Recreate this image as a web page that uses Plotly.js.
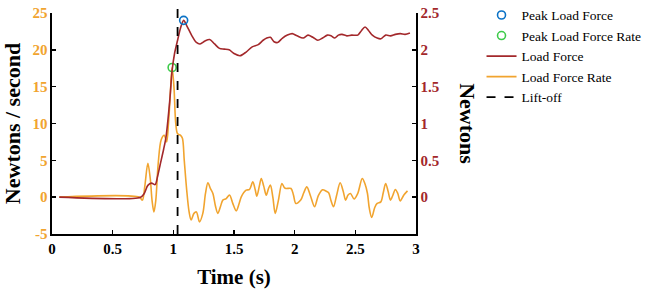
<!DOCTYPE html>
<html>
<head>
<meta charset="utf-8">
<script src="https://cdn.plot.ly/plotly-3.0.1.min.js"></script>
<style>html,body{margin:0;padding:0;background:#fff;}#chart{width:649px;height:293px;}</style>
</head>
<body>
<div id="chart"></div>
<script>
// ---- data ----
const forceTime = [0.06,0.73,0.76,0.79,0.82,0.85,0.87,0.89,0.92,0.94,0.97,0.99,1.01,1.035,1.06,1.085,1.11,1.15,1.19,1.22,1.26,1.30,1.34,1.38,1.42,1.46,1.50,1.55,1.60,1.65,1.70,1.74,1.77,1.80,1.83,1.86,1.90,1.94,1.98,2.02,2.07,2.11,2.15,2.19,2.23,2.27,2.30,2.33,2.36,2.39,2.43,2.47,2.52,2.55,2.58,2.61,2.64,2.68,2.71,2.75,2.79,2.83,2.87,2.91,2.95];
const loadForce = [0,0,0.05,0.16,0.19,0.17,0.28,0.43,0.65,0.82,1.3,1.72,1.95,2.13,2.3,2.40,2.33,2.2,2.1,2.08,2.12,2.14,2.08,2.02,2.01,2.0,1.95,1.92,1.97,2.04,2.07,2.13,2.16,2.17,2.11,2.10,2.16,2.2,2.22,2.19,2.16,2.2,2.17,2.13,2.16,2.2,2.19,2.16,2.2,2.21,2.19,2.2,2.2,2.26,2.31,2.26,2.2,2.16,2.15,2.2,2.19,2.21,2.22,2.21,2.23];

const rateTime = [0.06,0.72,0.745,0.765,0.79,0.81,0.825,0.84,0.855,0.875,0.90,0.925,0.945,0.96,0.975,0.99,1.005,1.02,1.035,1.06,1.075,1.09,1.11,1.13,1.147,1.17,1.19,1.216,1.243,1.265,1.285,1.305,1.326,1.347,1.367,1.39,1.408,1.436,1.463,1.49,1.518,1.54,1.56,1.60,1.628,1.655,1.675,1.688,1.71,1.725,1.745,1.766,1.785,1.80,1.82,1.84,1.865,1.895,1.915,1.93,1.97,1.99,2.01,2.05,2.075,2.10,2.13,2.164,2.195,2.23,2.26,2.28,2.30,2.32,2.345,2.375,2.40,2.42,2.44,2.46,2.49,2.52,2.557,2.58,2.60,2.615,2.635,2.66,2.68,2.71,2.73,2.75,2.77,2.79,2.81,2.83,2.85,2.87,2.90,2.93];
const loadForceRate = [0,0,-0.4,1.5,4.6,2.5,-0.5,-2.0,-0.5,4.5,7.8,8.4,7.5,10,14,17.6,15,10,8.6,8.4,8.0,5,1,-2,-3.1,-2.2,-2.0,-3.35,-2.2,0.5,1.95,1.2,0.5,-1.2,-2.2,-1.2,-0.4,-0.2,0.3,-0.85,-1.85,-1.0,0.04,0.95,1.05,2.08,1.0,0.14,1.6,2.54,1.5,0.27,1.2,1.63,0.0,-2.2,-0.5,1.86,1.3,1.18,1.18,0.3,-0.85,-0.4,0.6,1.4,0.2,-1.3,0.2,1.0,0.8,0.6,-0.5,-1.3,0.2,1.95,0.8,-0.4,0.3,0.5,-0.25,0.5,2.54,1.8,0.5,-1.5,-2.76,-1.4,-0.85,-0.64,0.6,1.86,0.8,-0.4,0.3,1.05,0.5,-0.5,0.3,0.86];

const peakForceTime = [1.085];
const peakForce = [2.40];
const peakRateTime = [0.99];
const peakRate = [17.6];
const liftoffTime = 1.035;

const xTickVals = [0,0.5,1,1.5,2,2.5,3];
const xTickText = ["0","0.5","1","1.5","2","2.5","3"];
const yLeftTickVals = [-5,0,5,10,15,20,25];
const yLeftTickText = ["-5","0","5","10","15","20","25"];
const yRightTickVals = [0,0.5,1,1.5,2,2.5];
const yRightTickText = ["0","0.5","1","1.5","2","2.5"];

// ---- styling ----
const RED = '#A3282B';
const ORANGE = '#F1A42F';
const BLUE = '#0B72C6';
const GREEN = '#3DCB4A';
const SERIF = 'Liberation Serif';

const traces = [
  {x: forceTime, y: loadForce, type: 'scatter', mode: 'lines', name: 'Load Force',
   yaxis: 'y2', line: {color: RED, width: 1.6, shape: 'spline', smoothing: 0.8}, legendrank: 3},
  {x: rateTime, y: loadForceRate, type: 'scatter', mode: 'lines', name: 'Load Force Rate',
   yaxis: 'y', line: {color: ORANGE, width: 1.6, shape: 'spline', smoothing: 0.9}, legendrank: 4},
  {x: peakForceTime, y: peakForce, type: 'scatter', mode: 'markers', name: 'Peak Load Force',
   yaxis: 'y2', marker: {symbol: 'circle-open', size: 8, color: BLUE, line: {width: 1.6, color: BLUE}}, legendrank: 1, cliponaxis: false},
  {x: peakRateTime, y: peakRate, type: 'scatter', mode: 'markers', name: 'Peak Load Force Rate',
   yaxis: 'y', marker: {symbol: 'circle-open', size: 8, color: GREEN, line: {width: 1.6, color: GREEN}}, legendrank: 2, cliponaxis: false}
];

const axisCommon = {
  showgrid: false, zeroline: false, showline: true, linecolor: '#000', linewidth: 1.6,
  ticks: 'inside', ticklen: 4, tickwidth: 1.6, tickcolor: '#000', fixedrange: true, automargin: false
};

const layout = {
  width: 649, height: 293,
  margin: {l: 52, r: 233, t: 13, b: 59, autoexpand: false},
  paper_bgcolor: '#fff', plot_bgcolor: '#fff',
  showlegend: true,
  legend: {x: 1.18, xanchor: 'left', y: 1.06, yanchor: 'top', bgcolor: 'rgba(0,0,0,0)',
           font: {family: SERIF, size: 13.5, color: '#000'}, traceorder: 'normal', tracegroupgap: 0},
  xaxis: Object.assign({}, axisCommon, {
    range: [0, 3], tickvals: xTickVals, ticktext: xTickText,
    tickfont: {family: SERIF, size: 15, color: '#000', weight: 'bold'},
    title: {text: 'Time (s)', font: {family: SERIF, size: 21, color: '#000', weight: 'bold'}, standoff: 14}
  }),
  yaxis: Object.assign({}, axisCommon, {
    range: [-5, 25], tickvals: yLeftTickVals, ticktext: yLeftTickText,
    tickfont: {family: SERIF, size: 15, color: ORANGE, weight: 'bold'},
    title: {text: 'Newtons / second', font: {family: SERIF, size: 22, color: '#000', weight: 'bold'}, standoff: 8}
  }),
  yaxis2: Object.assign({}, axisCommon, {
    overlaying: 'y', side: 'right', range: [-0.5, 2.5],
    tickvals: yRightTickVals, ticktext: yRightTickText,
    tickfont: {family: SERIF, size: 15, color: RED, weight: 'bold'}
  }),
  shapes: [{
    type: 'line', xref: 'x', yref: 'paper', x0: liftoffTime, x1: liftoffTime, y0: 0, y1: 1.06,
    line: {color: '#000', width: 1.8, dash: 'dash'}, layer: 'above',
    name: 'Lift-off', showlegend: true, legendrank: 5
  }],
  annotations: [{
    text: 'Newtons', xref: 'paper', yref: 'paper', x: 1.141, y: 0.5, xanchor: 'center', yanchor: 'middle',
    textangle: 90, showarrow: false, font: {family: SERIF, size: 22, color: '#000', weight: 'bold'}
  }]
};

Plotly.newPlot('chart', traces, layout, {displayModeBar: false, staticPlot: true});
</script>
</body>
</html>
